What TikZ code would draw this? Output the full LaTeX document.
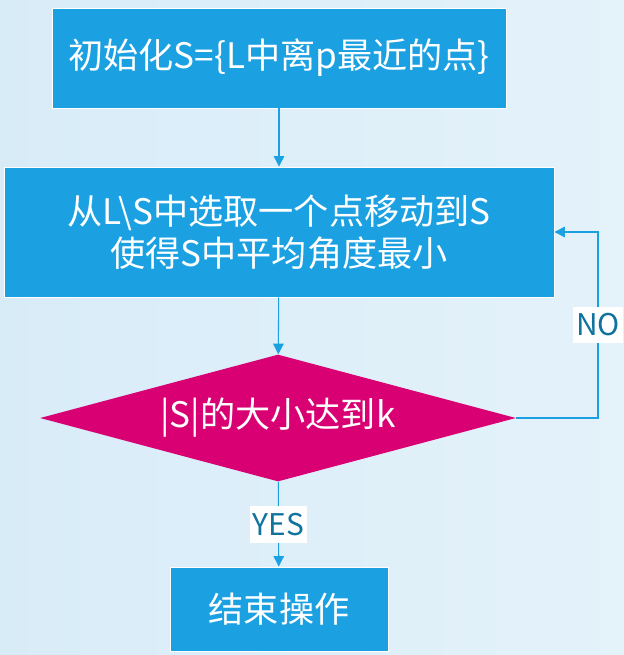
\documentclass[tikz,border=0pt]{standalone}
\usepackage{fontspec}
\newfontfamily\cjkfont{Noto Sans CJK SC}
\usetikzlibrary{shapes.geometric,arrows.meta}
\definecolor{boxblue}{HTML}{1BA1E2}
\definecolor{checkred}{HTML}{D80073}
\definecolor{tagtext}{HTML}{10739E}
\definecolor{bgleft}{HTML}{D8ECF8}
\definecolor{bgright}{HTML}{E4F2FA}

\begin{document}
\begin{tikzpicture}[x=0.02cm, y=-0.02cm,
    every node/.style={font=\cjkfont\fontsize{20}{24}\selectfont, text=white},
    procbox/.style={rectangle, draw=white, line width=0.5pt, fill=boxblue, align=center},
    decision/.style={diamond, aspect=3.75, fill=checkred, inner sep=0pt, minimum width=9.52cm, minimum height=2.54cm},
    flow/.style={draw=boxblue, line width=0.6pt, -{Triangle[length=6pt,width=6pt]}},
    tag/.style={fill=white, text=tagtext, font=\cjkfont\fontsize{17}{20}\selectfont, inner xsep=1.5pt, inner ysep=4pt}]
    \shade[left color=bgleft, right color=bgright] (0,0) rectangle (624,655);
    \useasboundingbox (0,0) rectangle (624,655);

    \node[procbox, minimum width=9.08cm, minimum height=2.0cm] (init) at (279,58) {初始化S=\{L中离p最近的点\}};
    \node[procbox, minimum width=11.0cm, minimum height=2.6cm] (pick) at (279,232) {从L\textbackslash S中选取一个点移动到S\\使得S中平均角度最小};
    \node[decision] (check) at (278,418) {|S|的大小达到k};
    \node[procbox, minimum width=4.36cm, minimum height=1.68cm] (done) at (279,609) {结束操作};
    \coordinate (turn) at (598,418);

    \draw[flow] (init) -- (pick);
    \draw[flow] (pick) -- (check);
    \draw[flow] (check) -- node[tag] {YES} (done);
    \draw[flow] (check.east) -- (turn) |- node[tag, pos=0.25] {NO} (pick.east);
\end{tikzpicture}
\end{document}
